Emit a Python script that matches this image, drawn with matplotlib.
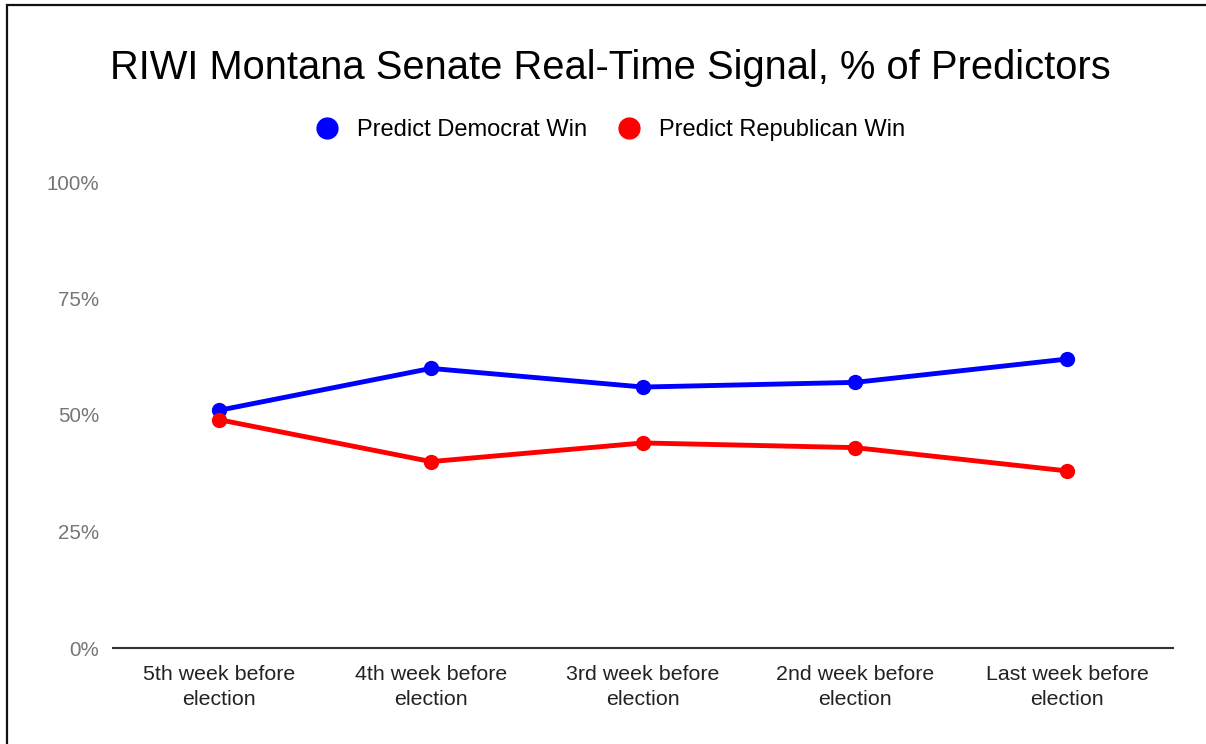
import matplotlib
matplotlib.use("Agg")
import matplotlib.pyplot as plt
from matplotlib.lines import Line2D
from matplotlib.patches import Rectangle
from matplotlib.ticker import FuncFormatter

plt.rcParams['font.family'] = ['Liberation Sans', 'DejaVu Sans']

weeks = ["5th week before\nelection", "4th week before\nelection", "3rd week before\nelection",
         "2nd week before\nelection", "Last week before\nelection"]
democrat = [51, 60, 56, 57, 62]
republican = [49, 40, 44, 43, 38]
yticks = [0, 25, 50, 75, 100]

W, H = 1206, 744
fig = plt.figure(figsize=(W / 100, H / 100), dpi=100)
ax = fig.add_axes([113 / W, (H - 648) / H, (1173 - 113) / W, (648 - 182) / H])

x = range(len(weeks))
ax.plot(x, democrat, color="#0000ff", lw=3.5, marker="o", ms=10, zorder=3)
ax.plot(x, republican, color="#ff0000", lw=3.5, marker="o", ms=10, zorder=3)

ax.set_xlim(-0.5, len(weeks) - 0.5)
ax.set_ylim(0, 100)
ax.set_yticks(yticks)
ax.yaxis.set_major_formatter(FuncFormatter(lambda v, p: f"{v:.0f}%"))
ax.set_xticks(list(x))
ax.set_xticklabels(weeks, fontsize=15.4, color="#222222", linespacing=1.4)
ax.tick_params(axis="y", length=0, pad=10, labelsize=14.8, labelcolor="#757575")
ax.tick_params(axis="x", length=0, pad=12)

for s in ["top", "right", "left"]:
    ax.spines[s].set_visible(False)
ax.spines["bottom"].set_color("#333333")
ax.spines["bottom"].set_linewidth(1.5)
ax.spines["bottom"].set_zorder(1)
ax.set_clip_on(False)

fig.text(610 / W, 1 - 68 / H, "RIWI Montana Senate Real-Time Signal, % of Predictors",
         ha="center", va="center", fontsize=28.7, color="#000000")

handles = [Line2D([], [], color="#0000ff", marker="o", ls="none", ms=15),
           Line2D([], [], color="#ff0000", marker="o", ls="none", ms=15)]
fig.legend(handles, ["Predict Democrat Win", "Predict Republican Win"],
           loc="center", bbox_to_anchor=(610 / W, 1 - 130 / H), ncol=2, frameon=False,
           fontsize=17, handletextpad=0.75, columnspacing=1.3, handlelength=1.0)

# outer frame (left and top edges visible in the source)
fig.patches.append(Rectangle((7 / W, -0.05), 1.1, 1 - 5 / H + 0.05, transform=fig.transFigure,
                             fill=False, edgecolor="#111111", lw=1.6))

fig.savefig("out.png", dpi=100)
